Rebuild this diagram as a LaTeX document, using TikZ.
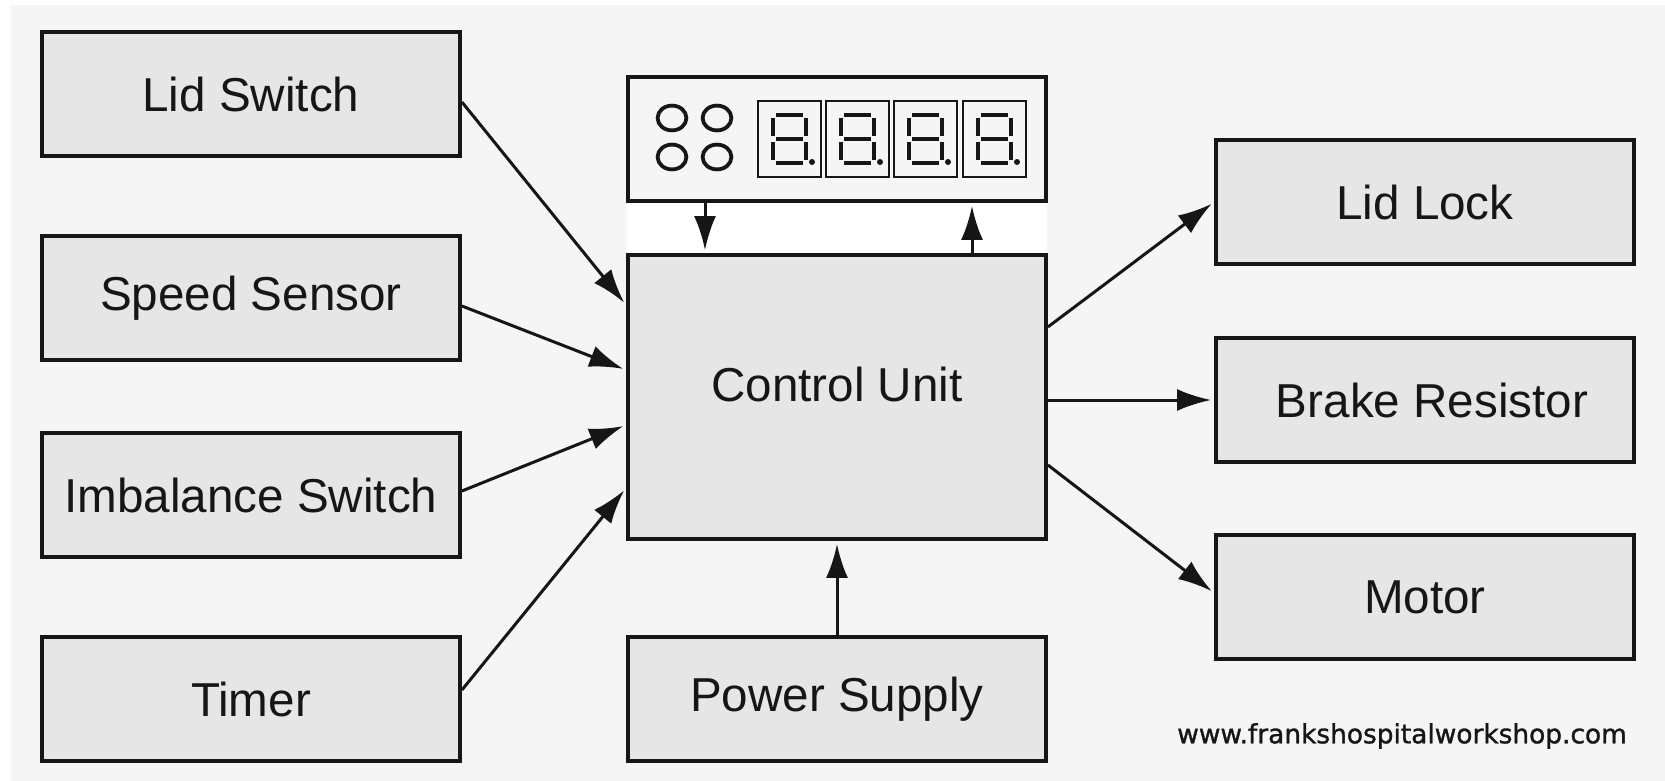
\documentclass[tikz,border=0pt]{standalone}
\usepackage{fontspec}
\setmainfont{Liberation Sans}
\newfontfamily\webfont[FakeBold=1.2]{DejaVu Sans}
\usetikzlibrary{calc}
\usetikzlibrary{arrows.meta}

\definecolor{bgray}{RGB}{245,245,245}
\definecolor{boxgray}{RGB}{230,230,230}
\definecolor{inkgray}{RGB}{22,22,22}

\tikzset{
  block/.style={draw=inkgray, line width=1.9pt, fill=boxgray, inner sep=0pt,
    minimum width=209pt, minimum height=62pt, text=inkgray,
    font=\fontsize{23.8}{27}\selectfont},
  feed/.style={-{Latex[length=17pt,width=11pt]}, line width=1.5pt, draw=inkgray,
    shorten >=1.5pt},
  seg/.style={line width=1.9pt, draw=inkgray},
}

\begin{document}
\begin{tikzpicture}[x=0.5pt,y=-0.5pt]
\useasboundingbox (0,0) rectangle (1665,781);
\fill[white] (0,0) rectangle (1665,781);
\fill[bgray] (11,5) rectangle (1665,781);
\fill[white] (627,202) rectangle (1047,253);

% inputs
\node[block] (ls) at (251,94) {Lid Switch};
\node[block] (ss) at (251,298) {Speed Sensor};
\node[block] (is) at (251,495) {Imbalance Switch};
\node[block] (tm) at (251,699) {Timer};

% centre column
\node[block, fill=bgray] (pn) at (837,139) {};
\node[block, minimum height=142pt, text depth=13pt] (cu) at (837,397) {Control Unit};
\node[block] (ps) at (837,699) {Power Supply};

% outputs
\node[block] (ll) at (1425,202) {Lid Lock};
\node[block] (br) at (1425,400) {\hspace*{7pt}Brake Resistor};
\node[block] (mo) at (1425,597) {Motor};

% display panel
\foreach \cx in {672,717}
  \foreach \cy in {118,157}
    \draw[seg] (\cx,\cy) ellipse [x radius=7.2pt, y radius=6.2pt];
\foreach \dx in {758,826,894,963} {
  \draw[line width=1.4pt, draw=inkgray] (\dx,101) rectangle ++(63,76);
  \draw[seg] (\dx+18,115) -- (\dx+45,115);
  \draw[seg] (\dx+18,139) -- (\dx+45,139);
  \draw[seg] (\dx+18,163) -- (\dx+45,163);
  \draw[seg] (\dx+15,118) -- (\dx+15,136);
  \draw[seg] (\dx+48,118) -- (\dx+48,136);
  \draw[seg] (\dx+15,142) -- (\dx+15,160);
  \draw[seg] (\dx+48,142) -- (\dx+48,160);
  \fill[inkgray] (\dx+54,162) circle (1.5pt);
}

% signals in
\draw[feed] ($(ls.east)+(0,8)$) -- ($(cu.west)+(0,-92)$);
\draw[feed] ($(ss.east)+(0,8)$) -- ($(cu.west)+(0,-27)$);
\draw[feed] ($(is.east)+(0,-4)$) -- ($(cu.west)+(0,28)$);
\draw[feed] ($(tm.east)+(0,-9)$) -- ($(cu.west)+(0,91)$);
\draw[feed] (ps.north) -- (cu.south);
\draw[feed] ($(pn.south)+(-132,0)$) -- ($(cu.north)+(-132,0)$);
\draw[feed] ($(cu.north)+(135,0)$) -- ($(pn.south)+(135,0)$);

% signals out
\draw[feed] ($(cu.east)+(0,-70)$) -- (ll.west);
\draw[feed] ($(cu.east)+(0,3)$) -- (br.west);
\draw[feed] ($(cu.east)+(0,68)$) -- ($(mo.west)+(0,-4)$);

\node[font=\webfont\fontsize{13.2}{16}\selectfont, text=inkgray] (web) at (1402,736) {www.frankshospitalworkshop.com};
\end{tikzpicture}
\end{document}
